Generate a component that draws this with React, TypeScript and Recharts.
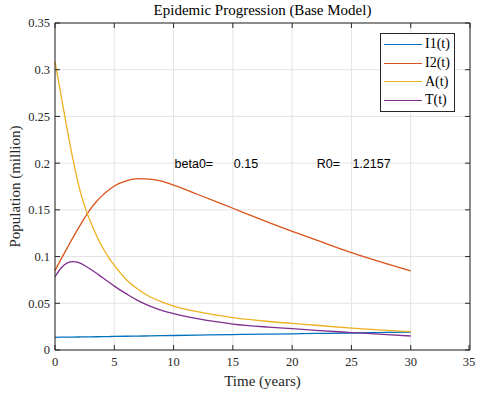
import {
  LineChart,
  Line,
  XAxis,
  YAxis,
  CartesianGrid,
  Legend,
  ReferenceDot,
  ReferenceLine,
} from "recharts";

const time = [0, 0.5, 1, 1.5, 2, 2.5, 3, 3.5, 4, 4.5, 5, 6, 7, 8, 9, 10, 12, 15, 18, 20, 22, 25, 28, 30];
const i1 = [0.0136, 0.0137, 0.0137, 0.0138, 0.0139, 0.014, 0.0141, 0.0142, 0.0143, 0.0144, 0.0145, 0.0147, 0.0149, 0.0151, 0.0153, 0.0155, 0.0159, 0.0165, 0.017, 0.0173, 0.0177, 0.0182, 0.0188, 0.0192];
const i2 = [0.085, 0.097, 0.1085, 0.12, 0.131, 0.1415, 0.151, 0.159, 0.1655, 0.171, 0.1755, 0.181, 0.1835, 0.183, 0.1807, 0.1765, 0.1667, 0.1517, 0.1367, 0.127, 0.1179, 0.1042, 0.0922, 0.0848];
const aT = [0.309, 0.273, 0.238, 0.205, 0.176, 0.154, 0.137, 0.1225, 0.11, 0.0995, 0.0905, 0.0755, 0.065, 0.057, 0.0515, 0.047, 0.041, 0.0346, 0.0305, 0.0285, 0.0265, 0.0235, 0.021, 0.0196];
const tT = [0.0784, 0.0875, 0.093, 0.0945, 0.0935, 0.0905, 0.0865, 0.0822, 0.0775, 0.073, 0.0684, 0.0603, 0.0528, 0.047, 0.0425, 0.039, 0.0335, 0.0278, 0.0245, 0.0228, 0.0211, 0.0187, 0.0164, 0.015];

const xTicks = [0, 5, 10, 15, 20, 25, 30, 35];
const yTicks = [0, 0.05, 0.1, 0.15, 0.2, 0.25, 0.3, 0.35];

const seriesKeys = ["i1", "i2", "a", "t"];
const seriesNames = ["I1(t)", "I2(t)", "A(t)", "T(t)"];
const seriesColors = ["#0072BD", "#D95319", "#EDB120", "#7E2F8E"];

const annoX = [10, 15, 22, 25];
const annoText = ["beta0=", "0.15", "R0=", "1.2157"];
const annoY = 0.2;

const data = time.map((t, k) => ({ time: t, i1: i1[k], i2: i2[k], a: aT[k], t: tT[k] }));

const serif = "serif";
const sans = "'Liberation Sans', Arial, sans-serif";
const axisColor = "#262626";
const TICK_LEN = 5;
const X_MARGIN = 7;
const Y_MARGIN = 5;
// inward tick length for the top/right box edges, in data units (~5px)
const TICK_DX = 0.42;
const TICK_DY = 0.0054;

// MATLAB style: ticks point into the axes
function BottomTick(props: any) {
  const { x, y, payload } = props;
  return (
    <g>
      <line x1={x} x2={x} y1={y - X_MARGIN} y2={y - X_MARGIN - TICK_LEN} stroke={axisColor} />
      <text x={x} y={y} dy="0.71em" textAnchor="middle" fill={axisColor} style={{ fontFamily: serif, fontSize: 12.5 }}>
        {payload.value}
      </text>
    </g>
  );
}

function LeftTick(props: any) {
  const { x, y, payload } = props;
  return (
    <g>
      <line x1={x + Y_MARGIN} x2={x + Y_MARGIN + TICK_LEN} y1={y} y2={y} stroke={axisColor} />
      <text x={x} y={y} dy="0.35em" textAnchor="end" fill={axisColor} style={{ fontFamily: serif, fontSize: 12.5 }}>
        {payload.value}
      </text>
    </g>
  );
}

function LegendBox() {
  return (
    <div
      style={{
        border: `1px solid ${axisColor}`,
        background: "#fff",
        padding: "1px 4px 1px 3px",
        fontFamily: serif,
        fontSize: 14,
        color: "#000",
      }}
    >
      {seriesNames.map((n, k) => (
        <div key={n} style={{ display: "flex", alignItems: "center", height: 18.7 }}>
          <span style={{ display: "inline-block", width: 38, height: 0, borderTop: `1.3px solid ${seriesColors[k]}`, marginRight: 3 }} />
          <span>{n}</span>
        </div>
      ))}
    </div>
  );
}

export default function App() {
  return (
    <div style={{ position: "fixed", left: 0, top: 0, width: 477, height: 394, background: "#fff" }}>
      <LineChart width={477} height={394} data={data} margin={{ top: 23, right: 7, bottom: 0, left: 0 }}>
        <CartesianGrid stroke="#e3e3e3" strokeWidth={1} />
        <XAxis
          dataKey="time"
          type="number"
          domain={[0, 35]}
          ticks={xTicks}
          height={44}
          stroke={axisColor}
          tickLine={false}
          tickSize={0}
          tickMargin={X_MARGIN}
          tick={<BottomTick />}
          label={{ value: "Time (years)", position: "center", dy: 9, style: { fontFamily: serif, fontSize: 15, fill: axisColor } }}
        />
        <YAxis
          type="number"
          domain={[0, 0.35]}
          ticks={yTicks}
          width={55}
          stroke={axisColor}
          tickLine={false}
          tickSize={0}
          tickMargin={Y_MARGIN}
          tick={<LeftTick />}
          label={{ value: "Population (million)", angle: -90, position: "center", dx: -13, style: { fontFamily: serif, fontSize: 15, fill: axisColor } }}
        />
        {/* box: top and right edges, title above the top edge */}
        <ReferenceLine
          y={0.35}
          stroke={axisColor}
          label={{ value: "Epidemic Progression (Base Model)", position: "top", offset: 8, style: { fontFamily: serif, fontSize: 15, fill: "#000" } }}
        />
        <ReferenceLine x={35} stroke={axisColor} />
        {xTicks.map((x) => (
          <ReferenceLine key={`tx${x}`} segment={[{ x, y: 0.35 }, { x, y: 0.35 - TICK_DY }]} stroke={axisColor} />
        ))}
        {yTicks.map((y) => (
          <ReferenceLine key={`ty${y}`} segment={[{ x: 35, y }, { x: 35 - TICK_DX, y }]} stroke={axisColor} />
        ))}
        {seriesKeys.map((k, idx) => (
          <Line
            key={k}
            dataKey={k}
            name={seriesNames[idx]}
            type="monotone"
            stroke={seriesColors[idx]}
            strokeWidth={1.3}
            dot={false}
            isAnimationActive={false}
          />
        ))}
        {annoX.map((x, idx) => (
          <ReferenceDot
            key={idx}
            x={x}
            y={annoY}
            r={1}
            fill="none"
            stroke="none"
            label={{ value: annoText[idx], position: "right", offset: 0, style: { fontFamily: sans, fontSize: 12.5, fill: "#000" } }}
          />
        ))}
        <Legend
          layout="vertical"
          align="center"
          verticalAlign="middle"
          wrapperStyle={{ left: 380, top: 33, width: "auto" }}
          content={() => <LegendBox />}
        />
      </LineChart>
    </div>
  );
}
